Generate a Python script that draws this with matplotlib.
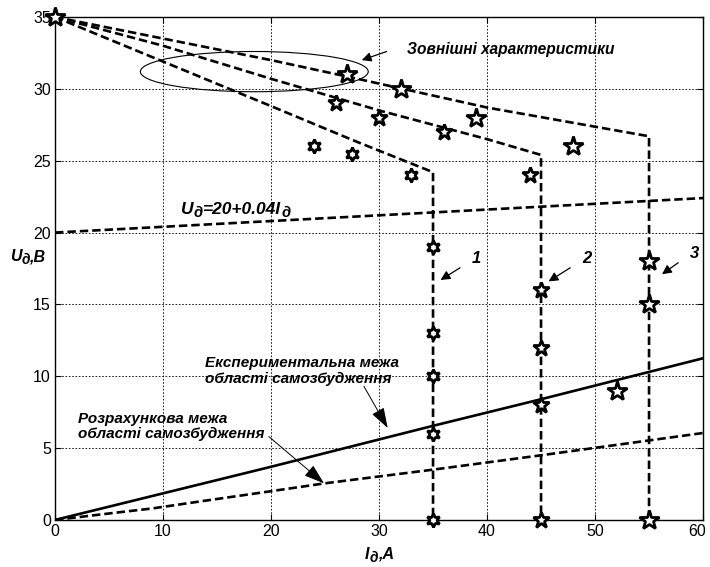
import numpy as np
import matplotlib
matplotlib.use("Agg")
import matplotlib.pyplot as plt
from matplotlib.patches import Ellipse
from matplotlib.transforms import ScaledTranslation

plt.rcParams['font.family'] = ['Liberation Sans', 'DejaVu Sans']

# ---------------------------------------------------------------------------
# Data
# ---------------------------------------------------------------------------
# external characteristics (dashed), each ends with a vertical drop to zero
ext1_i = [0, 10, 20, 28, 35, 35]
ext1_u = [35, 31.9, 28.8, 26.3, 24.2, 0]
ext2_i = [0, 10, 20, 30, 40, 45, 45]
ext2_u = [35, 33.0, 30.7, 28.5, 26.5, 25.4, 0]
ext3_i = [0, 10, 20, 28, 40, 55, 55]
ext3_u = [35, 33.5, 32.0, 30.7, 28.7, 26.7, 0]

# load line U = 20 + 0.04 I
load_i = [0, 10, 20, 30, 40, 50, 60]
load_u = [20.0, 20.4, 20.8, 21.2, 21.6, 22.0, 22.4]

# experimental boundary (solid) and calculated boundary (dashed)
exp_i = [0, 10, 20, 35, 45, 60]
exp_u = [0, 1.85, 3.7, 6.55, 8.4, 11.25]
calc_i = [0, 5, 9, 14, 20, 25, 35, 45, 60]
calc_u = [0, 0.45, 0.8, 1.35, 2.0, 2.55, 3.5, 4.5, 6.05]

# measured points
pent_big_i = [0, 27, 32, 39, 48, 52, 55, 55, 55]
pent_big_u = [35, 31, 30, 28, 26, 9, 18, 15, 0]
pent_small_i = [26, 30, 36, 44, 45, 45, 45, 45]
pent_small_u = [29, 28, 27, 24, 16, 12, 8, 0]
hexa_i = [24, 27.5, 33, 35, 35, 35, 35, 35]
hexa_u = [26, 25.5, 24, 19, 13, 10, 6, 0]

x_ticks = [0, 10, 20, 30, 40, 50, 60]
y_ticks = [0, 5, 10, 15, 20, 25, 30, 35]

# ---------------------------------------------------------------------------
fig = plt.figure(figsize=(7.1, 5.67), dpi=100)
ax = fig.add_axes([0.0775, 0.083, 0.9127, 0.887])

dash = (0, (3.2, 1.5))
for xi, yi in [(ext1_i, ext1_u), (ext2_i, ext2_u), (ext3_i, ext3_u)]:
    ax.plot(xi, yi, color='k', lw=1.9, linestyle=dash, zorder=3)
ax.plot(load_i, load_u, color='k', lw=1.9, linestyle=dash, zorder=3)
ax.plot(exp_i, exp_u, color='k', lw=1.9, zorder=3)
ax.plot(calc_i, calc_u, color='k', lw=1.9, linestyle=dash, zorder=3)

ax.plot(pent_big_i, pent_big_u, linestyle='none', marker='*', ms=15,
        mfc='white', mec='k', mew=2.0, zorder=4, clip_on=False)
ax.plot(pent_small_i, pent_small_u, linestyle='none', marker='*', ms=12,
        mfc='white', mec='k', mew=2.0, zorder=4, clip_on=False)
ax.plot(hexa_i, hexa_u, linestyle='none', marker=(6, 1, 0), ms=10,
        mfc='white', mec='k', mew=2.0, zorder=4, clip_on=False)

ax.add_patch(Ellipse((18.45, 31.2), 21.1, 2.8, fill=False, ec='k', lw=0.8, zorder=2))

ax.set_xlim(0, 60)
ax.set_ylim(0, 35)
ax.set_xticks(x_ticks)
ax.set_yticks(y_ticks)
ax.tick_params(direction='in', length=4, labelsize=11.5, top=True, right=True,
               pad=3)
ax.grid(True, color='k', linestyle=(0, (2, 2)), lw=0.6)
for s in ax.spines.values():
    s.set_linewidth(1.0)

# keep the last x tick label inside the picture
last = ax.xaxis.get_major_ticks()[-1].label1
last.set_transform(last.get_transform() + ScaledTranslation(-4 / 72, 0, fig.dpi_scale_trans))

bi = dict(fontweight='bold', fontstyle='italic', color='k')


def chain(x, y, parts, size):
    # draw main text with subscripts, piece after piece
    prev = ax.text(x, y, parts[0][0], fontsize=size, va='baseline', clip_on=False, **bi)
    for txt, sub in parts[1:]:
        if sub:
            prev = ax.annotate(txt, xy=(1, 0), xycoords=prev, xytext=(0, -2),
                               textcoords='offset points', va='bottom',
                               fontsize=size * 0.85, annotation_clip=False, **bi)
        else:
            prev = ax.annotate(txt, xy=(1, 0), xycoords=prev, xytext=(0, 2),
                               textcoords='offset points', va='bottom',
                               fontsize=size, annotation_clip=False, **bi)


chain(11.7, 21.3, [('U', 0), ('д', 1), ('=20+0.04I', 0), ('д', 1)], 12.5)
chain(-4.2, 18.0, [('U', 0), ('д', 1), (',B', 0)], 11.5)
chain(28.7, -2.7, [('I', 0), ('д', 1), (',A', 0)], 11.5)

ax.text(32.6, 32.45, 'Зовнішні характеристики', fontsize=11.2, **bi)
ax.annotate('', xy=(28.4, 32.0), xytext=(30.7, 32.6),
            arrowprops=dict(arrowstyle='-|>', color='k', lw=0.9, mutation_scale=14,
                            shrinkA=0, shrinkB=0))

for num, tx, ty, hx, hy in [('1', 38.6, 17.9, 35.7, 16.7),
                            ('2', 48.8, 17.9, 45.7, 16.6),
                            ('3', 58.8, 18.25, 56.2, 17.1)]:
    ax.text(tx, ty, num, fontsize=12, **bi)
    ax.annotate('', xy=(hx, hy), xytext=(tx - 1.1, ty - 0.35),
                arrowprops=dict(arrowstyle='-|>', color='k', lw=0.9, mutation_scale=14,
                                shrinkA=0, shrinkB=0))

ax.text(13.9, 9.55, 'Експериментальна межа\nобласті самозбудження',
        fontsize=11, linespacing=1.12, va='baseline', ha='left', **bi)
ax.annotate('', xy=(30.8, 6.4), xytext=(28.6, 9.3),
            arrowprops=dict(arrowstyle='-|>,head_length=0.9,head_width=0.3',
                            color='k', lw=0.7, mutation_scale=14,
                            shrinkA=0, shrinkB=0))

ax.text(2.1, 5.7, 'Розрахункова межа\nобласті самозбудження',
        fontsize=11, linespacing=1.12, va='baseline', ha='left', **bi)
ax.annotate('', xy=(24.9, 2.55), xytext=(19.8, 5.8),
            arrowprops=dict(arrowstyle='-|>,head_length=0.9,head_width=0.3',
                            color='k', lw=0.7, mutation_scale=14,
                            shrinkA=0, shrinkB=0))

fig.savefig('out.png', dpi=100)
